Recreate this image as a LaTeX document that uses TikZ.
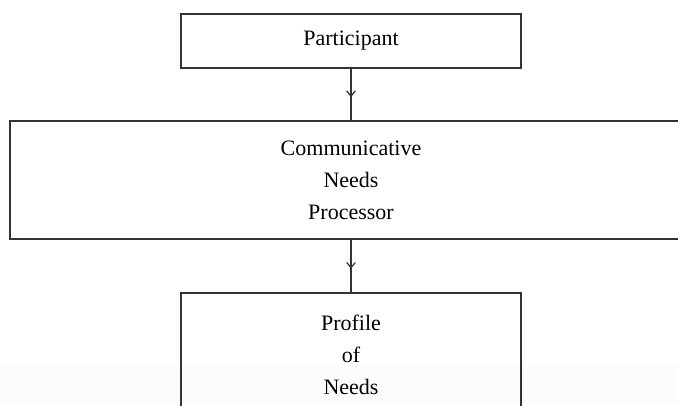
\documentclass[tikz,border=0pt]{standalone}
\usepackage{fontspec}
\setmainfont{Liberation Serif}
\usetikzlibrary{positioning,arrows.meta,decorations.markings}

\begin{document}
\begin{tikzpicture}[
	node distance=39.75pt,
	box/.style = {
		draw=black!80, line width=1.3pt, rectangle, align=center,
		font=\fontsize{16.5}{24}\selectfont, inner sep=0pt, outer sep=0pt},
	conn/.style = {
		draw=black!80, line width=1.1pt,
		decoration={markings,
			mark=at position 0.55 with {\arrow[line width=0.9pt]{Straight Barb[length=4pt,width=6.5pt]}}},
		postaction=decorate}
]
\useasboundingbox (0,0) rectangle (508.5pt,-303.75pt);
\clip (0,0) rectangle (508.5pt,-303.75pt);

% faint band along the bottom edge
\fill[black!1] (0,-273.75pt) rectangle (508.5pt,-303.75pt);

\node (part) [box, minimum width=255pt, minimum height=40.5pt]
             at (263.25pt,-30.75pt) {Participant};
\node (cnp)  [box, below=of part, minimum width=511.5pt, minimum height=88.5pt]
             {Communicative\\ Needs\\ Processor};
\node (prof) [box, below=40.5pt of cnp, minimum width=255pt, minimum height=93pt]
             {Profile\\ of\\ Needs};

\draw[conn] (part) -- (cnp);
\draw[conn] (cnp) -- (prof);
\end{tikzpicture}
\end{document}
